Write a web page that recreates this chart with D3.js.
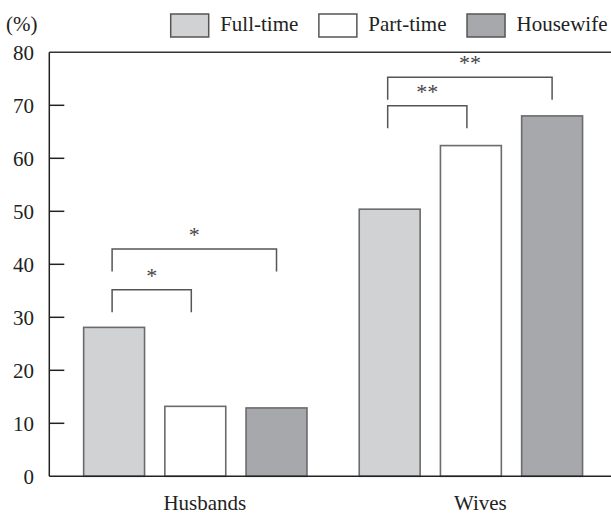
<!DOCTYPE html>
<html>
<head>
<meta charset="utf-8">
<script src="https://cdn.jsdelivr.net/npm/d3@7"></script>
<style>
  body { margin: 0; background: #fff; }
  text { font-family: "Liberation Serif", "Times New Roman", serif; fill: #222; }
</style>
</head>
<body>
<div id="chart"></div>
<script>
var groups = ["Husbands", "Wives"];
var types = ["Full-time", "Part-time", "Housewife"];
var husbandValues = [28.1, 13.2, 12.9];
var wifeValues = [50.4, 62.4, 68.0];
var yTicks = [0, 10, 20, 30, 40, 50, 60, 70, 80];
// significance brackets: group, from type, to type, level (%), label
var brackets = [
  { group: "Husbands", from: "Full-time", to: "Part-time", level: 35.2, label: "*" },
  { group: "Husbands", from: "Full-time", to: "Housewife", level: 42.9, label: "*" },
  { group: "Wives", from: "Full-time", to: "Part-time", level: 69.9, label: "**" },
  { group: "Wives", from: "Full-time", to: "Housewife", level: 75.3, label: "**" }
];

var width = 611, height = 516;
var axisX = 49.3, rightX = 611;

var fills = { "Full-time": "#d1d2d4", "Part-time": "#ffffff", "Housewife": "#a7a8ab" };

var data = groups.map(function(g, i) {
  var vals = i === 0 ? husbandValues : wifeValues;
  return { group: g, values: types.map(function(t, j) { return { type: t, value: vals[j] }; }) };
});

var svg = d3.select("#chart").append("svg")
  .attr("width", width)
  .attr("height", height);

var y = d3.scaleLinear().domain([0, 80]).range([476.3, 52.3]);

var x0 = d3.scaleBand()
  .domain(groups)
  .range([73.5, 592.7])
  .paddingInner(0.116)
  .paddingOuter(0);

var x1 = d3.scaleBand()
  .domain(types)
  .range([0, x0.bandwidth()])
  .paddingInner(0.25)
  .paddingOuter(0.125);

// bars
var g = svg.append("g").selectAll("g")
  .data(data)
  .enter().append("g")
  .attr("transform", function(d) { return "translate(" + x0(d.group) + ",0)"; });

g.selectAll("rect")
  .data(function(d) { return d.values; })
  .enter().append("rect")
  .attr("x", function(d) { return x1(d.type); })
  .attr("y", function(d) { return y(d.value); })
  .attr("width", x1.bandwidth())
  .attr("height", function(d) { return y(0) - y(d.value); })
  .style("fill", function(d) { return fills[d.type]; })
  .style("stroke", "#6a6b6d")
  .style("stroke-width", 1.6);

// frame: left axis, top line, baseline
svg.append("line")
  .attr("x1", axisX).attr("x2", axisX)
  .attr("y1", y(80)).attr("y2", y(0))
  .style("stroke", "#222").style("stroke-width", 1.5);
svg.append("line")
  .attr("x1", axisX).attr("x2", rightX)
  .attr("y1", y(80)).attr("y2", y(80))
  .style("stroke", "#333").style("stroke-width", 1.5);
svg.append("line")
  .attr("x1", axisX).attr("x2", rightX)
  .attr("y1", y(0)).attr("y2", y(0))
  .style("stroke", "#222").style("stroke-width", 1.5);

// y ticks
svg.append("g").selectAll("line")
  .data(yTicks.filter(function(t) { return t > 0 && t < 80; }))
  .enter().append("line")
  .attr("x1", axisX).attr("x2", axisX + 15)
  .attr("y1", function(d) { return y(d); })
  .attr("y2", function(d) { return y(d); })
  .style("stroke", "#222").style("stroke-width", 1.5);

svg.append("g").selectAll("text")
  .data(yTicks)
  .enter().append("text")
  .attr("x", 34)
  .attr("y", function(d) { return y(d) + 8; })
  .attr("text-anchor", "end")
  .style("font-size", "21px")
  .text(function(d) { return d; });

svg.append("text")
  .attr("x", 6).attr("y", 31)
  .style("font-size", "21px")
  .text("(%)");

// group labels
svg.append("g").selectAll("text")
  .data(groups)
  .enter().append("text")
  .attr("x", function(d) { return x0(d) + x0.bandwidth() / 2 + 9.5; })
  .attr("y", 510)
  .attr("text-anchor", "middle")
  .style("font-size", "21px")
  .text(function(d) { return d; });

// brackets
function center(gr, t) { return x0(gr) + x1(t) + x1.bandwidth() / 2; }
var legLen = 4.25;
var br = svg.append("g").selectAll("g")
  .data(brackets)
  .enter().append("g");

br.append("path")
  .attr("d", function(d) {
    var adjacent = types.indexOf(d.to) - types.indexOf(d.from) === 1;
    var xa = center(d.group, d.from) - 2;
    var xb = center(d.group, d.to) - (adjacent ? 4 : 0);
    var yt = y(d.level), yb = y(d.level - legLen);
    return "M" + xa + "," + yb + "V" + yt + "H" + xb + "V" + yb;
  })
  .style("fill", "none")
  .style("stroke", "#555")
  .style("stroke-width", 1.5);

br.append("text")
  .attr("x", function(d) {
    var adjacent = types.indexOf(d.to) - types.indexOf(d.from) === 1;
    return (center(d.group, d.from) - 2 + center(d.group, d.to) - (adjacent ? 4 : 0)) / 2;
  })
  .attr("y", function(d) { return y(d.level) - 7; })
  .attr("text-anchor", "middle")
  .style("font-size", "22px")
  .style("fill", "#444")
  .text(function(d) { return d.label; });

// legend
var legend = svg.append("g");
var lx = 170.7;
types.forEach(function(t) {
  legend.append("rect")
    .attr("x", lx).attr("y", 14)
    .attr("width", 38).attr("height", 23)
    .style("fill", fills[t])
    .style("stroke", "#555")
    .style("stroke-width", 1.5);
  var txt = legend.append("text")
    .attr("x", lx + 49.5).attr("y", 31)
    .style("font-size", "21px")
    .text(t);
  lx += 49.5 + txt.node().getComputedTextLength() + 20.5;
});
</script>
</body>
</html>
